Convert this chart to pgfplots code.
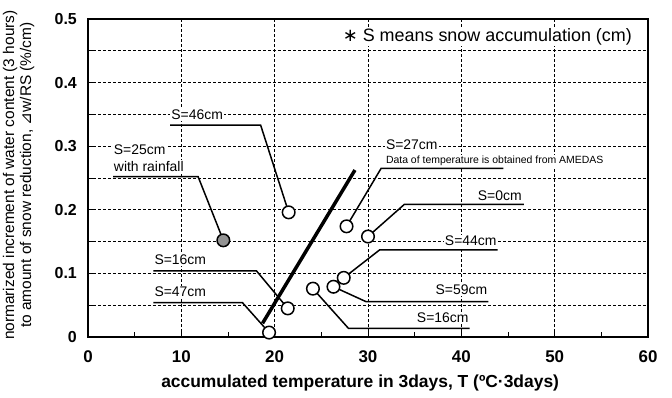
\documentclass[border=0pt]{standalone}
\usepackage{pgfplots}
\pgfplotsset{compat=1.18}
\usepackage{fontspec}
\setmainfont{Liberation Sans}
\newfontfamily\dejavu{DejaVu Sans}
\tikzset{lbl/.style={font=\fontsize{14}{14}\selectfont, fill=white, inner sep=1bp}}
\begin{document}
\begin{tikzpicture}
\begin{axis}[
 scale only axis, width=560bp, height=318bp,
 xmin=0, xmax=60, ymin=0, ymax=0.5,
 xtick={0,10,...,60}, ytick={0,0.1,0.2,0.3,0.4,0.5},
 minor x tick num=1, minor y tick num=1,
 tick align=inside, tick pos=left,
 major tick length=5bp, minor tick length=5bp,
 xmajorgrids, ymajorgrids, yminorgrids,
 grid style={black, line width=0.7bp, dash pattern=on 3bp off 2bp},
 minor grid style={black, line width=0.7bp, dash pattern=on 3bp off 2bp},
 axis line style={line width=1.2bp},
 tick style={black, line width=0.8bp},
 /pgf/number format/assume math mode=true,
 yticklabel style={/pgf/number format/fixed, /pgf/number format/precision=1, font=\bfseries\fontsize{16}{16}\selectfont, inner sep=0pt, anchor=east, xshift=-11bp},
 xticklabel style={font=\bfseries\fontsize{17}{17}\selectfont, inner sep=0pt, anchor=center, yshift=-20bp},
 xlabel={accumulated temperature in 3days, T (ºC·3days)},
 xlabel style={font=\bfseries\fontsize{17.5}{17.5}\selectfont, at={(axis description cs:0.486,-0.145)}, anchor=center},
 ylabel={normarized increment of water content (3 hours)\\to amount of snow reduction, {\dejavu ⊿}w/RS (\%/cm)},
 ylabel style={font=\fontsize{15.5}{17}\selectfont, align=center, at={(axis description cs:-0.124,0.509)}, anchor=center},
]
% leader lines
\addplot[black, line width=1.5bp] coordinates {(8.8,0.333) (18.5,0.333) (21.5,0.196)};
\addplot[black, line width=1.5bp] coordinates {(2.7,0.252) (11.8,0.252) (14.5,0.152)};
\addplot[black, line width=1.5bp] coordinates {(44.5,0.265) (31.4,0.265) (27.7,0.174)};
\addplot[black, line width=1.5bp] coordinates {(46.7,0.2086) (33.9,0.2086) (30.0,0.158)};
\addplot[black, line width=1.5bp] coordinates {(43.9,0.137) (31.25,0.137) (27.4,0.093)};
\addplot[black, line width=1.5bp] coordinates {(26.3,0.079) (29.8,0.0555) (42.9,0.0555)};
\addplot[black, line width=1.5bp] coordinates {(24.1,0.076) (27.9,0.0137) (40.9,0.0137)};
\addplot[black, line width=1.5bp] coordinates {(7.0,0.104) (18.05,0.104) (21.4,0.045)};
\addplot[black, line width=1.5bp] coordinates {(7.0,0.054) (16.55,0.054) (19.4,0.007)};
% trend line
\addplot[black, line width=3.5bp] coordinates {(18.7,0.0215) (28.6,0.2625)};
% data points
\addplot[only marks, mark=*, mark size=6.3pt, mark options={fill=white, draw=black, line width=1.5bp}] coordinates {
 (21.5,0.196) (27.7,0.174) (30.0,0.158) (27.4,0.093) (26.3,0.079) (24.1,0.076) (21.4,0.045) (19.4,0.007)};
\addplot[only marks, mark=*, mark size=6.3pt, mark options={fill=gray!85, draw=black, line width=1.5bp}] coordinates {(14.5,0.152)};
% labels
\node[lbl, anchor=west] at (axis cs:8.8,0.349) {S=46cm};
\node[lbl, anchor=west] at (axis cs:2.65,0.294) {S=25cm};
\node[lbl, anchor=west] at (axis cs:2.65,0.268) {with rainfall};
\node[lbl, anchor=west] at (axis cs:31.8,0.302) {S=27cm};
\node[lbl, anchor=west, font=\fontsize{10.5}{10.5}\selectfont] at (axis cs:31.8,0.277) {Data of temperature is obtained from AMEDAS};
\node[lbl, anchor=east] at (axis cs:46.6,0.2217) {S=0cm};
\node[lbl, anchor=east] at (axis cs:43.9,0.151) {S=44cm};
\node[lbl, anchor=east] at (axis cs:42.9,0.0739) {S=59cm};
\node[lbl, anchor=east] at (axis cs:40.9,0.0299) {S=16cm};
\node[lbl, anchor=west] at (axis cs:7.0,0.121) {S=16cm};
\node[lbl, anchor=west] at (axis cs:7.0,0.0712) {S=47cm};
\node[lbl, anchor=east, font=\fontsize{18}{18}\selectfont] at (axis cs:58.4,0.472) {{\dejavu ∗} S means snow accumulation (cm)};
\end{axis}
\pgfresetboundingbox
\path[use as bounding box] (-88bp,-61bp) rectangle (584bp,337bp);
\end{tikzpicture}
\end{document}
